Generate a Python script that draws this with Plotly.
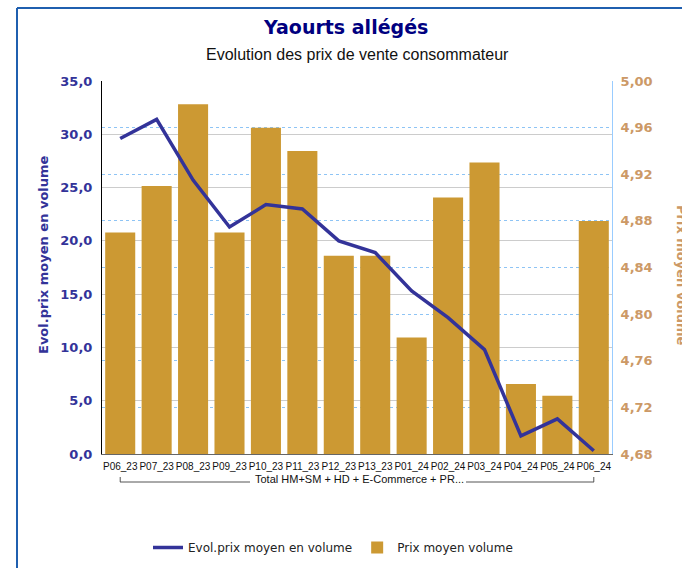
import plotly.graph_objects as go

categories = ["P06_23", "P07_23", "P08_23", "P09_23", "P10_23", "P11_23", "P12_23",
              "P13_23", "P01_24", "P02_24", "P03_24", "P04_24", "P05_24", "P06_24"]
prix_moyen_volume = [4.87, 4.91, 4.98, 4.87, 4.96, 4.94, 4.85, 4.85, 4.78, 4.90, 4.93, 4.74, 4.73, 4.88]
evol_prix = [29.6, 31.4, 25.7, 21.3, 23.4, 23.0, 20.0, 18.9, 15.3, 12.8, 9.8, 1.7, 3.3, 0.3]

group_label = "Total HM+SM + HD + E-Commerce + PR..."
title = "Yaourts allégés"
subtitle = "Evolution des prix de vente consommateur"
left_title = "Evol.prix moyen en volume"
right_title = "Prix moyen volume"

BLUE = "#333399"
GOLD = "#CC9933"
TAN = "#CC9966"

W, H = 682, 568
L, R, T, B = 102, 612, 81, 454


def px(x):
    return (x - L) / (R - L)


def py(y):
    return (B - y) / (B - T)


fig = go.Figure()
fig.add_trace(go.Bar(
    x=categories, y=prix_moyen_volume, name="Prix moyen volume",
    marker=dict(color=GOLD, line=dict(width=0)), yaxis="y",
))
fig.add_trace(go.Scatter(
    x=categories, y=evol_prix, name="Evol.prix moyen en volume",
    mode="lines", line=dict(color=BLUE, width=3.5), yaxis="y2",
))

fig.update_layout(
    width=W, height=H,
    margin=dict(l=L, r=W - R, t=T, b=H - B, autoexpand=False),
    paper_bgcolor="white", plot_bgcolor="white",
    separators=", ",
    bargap=0.175,
    showlegend=True,
    legend=dict(orientation="h", x=px(148), xanchor="left", y=py(533), yanchor="top",
                font=dict(family="DejaVu Sans", size=12, color="#222"),
                traceorder="reversed", itemwidth=30),
    xaxis=dict(type="category", showgrid=False, tickangle=0, ticklabelstandoff=3,
               tickfont=dict(family="Liberation Sans", size=10, color="#111"),
               showline=True, linecolor="#666", linewidth=1, ticks=""),
    yaxis=dict(range=[4.68, 5.00], dtick=0.04, tickformat=".2f", side="right",
               ticklabelstandoff=5,
               tickfont=dict(family="DejaVu Sans", size=13, color=TAN, weight="bold"),
               showgrid=True, gridcolor="#8EC4F5", griddash="dot", gridwidth=1,
               showline=True, linecolor="#99CCFF", linewidth=1, zeroline=False, ticks=""),
    yaxis2=dict(range=[0, 35], dtick=5, tickformat=".1f", overlaying="y", side="left",
                ticklabelstandoff=6,
                tickfont=dict(family="DejaVu Sans", size=13, color=BLUE, weight="bold"),
                showgrid=True, gridcolor="#CCCCCC", gridwidth=1,
                showline=True, linecolor="black", linewidth=1, zeroline=False, ticks=""),
)

annotations = [
    dict(text=f"<b>{title}</b>", x=px(345), y=py(27), xref="paper", yref="paper",
         xanchor="center", yanchor="middle",
         showarrow=False, font=dict(family="DejaVu Sans", size=19, color="#000080")),
    dict(text=subtitle, x=px(357), y=py(55), xref="paper", yref="paper",
         xanchor="center", yanchor="middle",
         showarrow=False, font=dict(family="Liberation Sans", size=16, color="#111")),
    dict(text=f"<b>{left_title}</b>", x=px(43), y=py(255), xref="paper", yref="paper",
         xanchor="center", yanchor="middle",
         showarrow=False, textangle=-90, font=dict(family="DejaVu Sans", size=13, color=BLUE)),
    dict(text=f"<b>{right_title}</b>", x=px(682), y=py(275), xref="paper", yref="paper",
         xanchor="center", yanchor="middle",
         showarrow=False, textangle=90, font=dict(family="DejaVu Sans", size=13, color=TAN)),
    dict(text=group_label, x=px(359), y=py(479), xref="paper", yref="paper",
         xanchor="center", yanchor="middle",
         showarrow=False, font=dict(family="Liberation Sans", size=11, color="#111")),
]
fig.update_layout(annotations=annotations)

last = len(categories) - 1
shapes = [
    # bracket under categories
    dict(type="line", xref="x", yref="paper", x0=0, x1=0, y0=py(477), y1=py(482),
         line=dict(color="#555", width=1)),
    dict(type="line", xref="paper", yref="paper", x0=px(120), x1=px(250), y0=py(482), y1=py(482),
         line=dict(color="#555", width=1)),
    dict(type="line", xref="paper", yref="paper", x0=px(466), x1=px(594), y0=py(482), y1=py(482),
         line=dict(color="#555", width=1)),
    dict(type="line", xref="x", yref="paper", x0=last, x1=last,
         y0=py(477), y1=py(482), line=dict(color="#555", width=1)),
    # outer frame
    dict(type="line", xref="paper", yref="paper", x0=px(17), x1=px(17), y0=py(8), y1=py(600),
         line=dict(color="#1F5FAF", width=2)),
    dict(type="line", xref="paper", yref="paper", x0=px(17), x1=px(700), y0=py(8), y1=py(8),
         line=dict(color="#1F5FAF", width=2)),
]
fig.update_layout(shapes=shapes)

fig.write_html("out.html", config={"displayModeBar": False},
               post_script="document.body.style.margin='0';")
